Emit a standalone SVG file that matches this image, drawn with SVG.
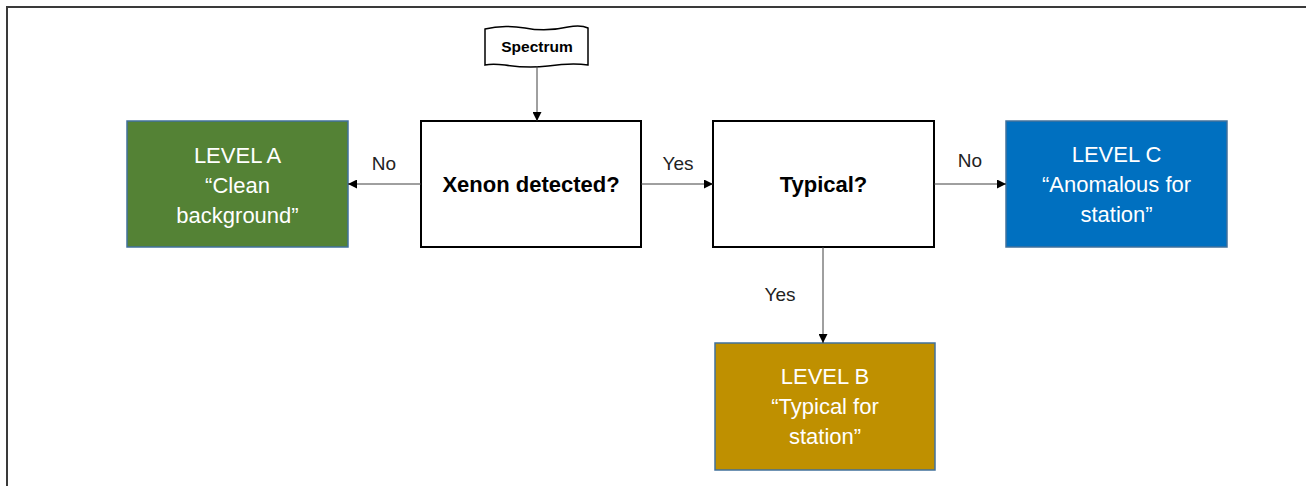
<svg xmlns="http://www.w3.org/2000/svg" width="1306" height="486" viewBox="0 0 1306 486">
<defs>
<marker id="ah" viewBox="0 0 10 10" refX="10" refY="5" markerWidth="9" markerHeight="9" markerUnits="userSpaceOnUse" orient="auto">
<path d="M0,0 L10,5 L0,10 Z" fill="#000"/>
</marker>
</defs>
<style>
.frame{fill:none;stroke:#3a3a3a;stroke-width:2}
.dec{fill:#fff;stroke:#000;stroke-width:2}
.lvl{stroke:#41719C;stroke-width:1.5}
.conn{fill:none;stroke:#404040;stroke-width:1;marker-end:url(#ah)}
.wt{font-family:"Liberation Sans",Arial,sans-serif;font-size:22px;fill:#fff;text-anchor:middle}
.bt{font-family:"Liberation Sans",Arial,sans-serif;font-size:22px;font-weight:bold;fill:#000;text-anchor:middle}
.lab{font-family:"Liberation Sans",Arial,sans-serif;font-size:19px;fill:#222;text-anchor:middle}
</style>
<rect width="1306" height="486" fill="#fff"/>
<path class="frame" d="M7,490 L7,7 L1310,7"/>
<g id="spectrum">
<path d="M485,29 C500,25 512,26 525,28 C540,31 555,30 568,27 C578,25 584,26 588,28 L588,65 C575,63 562,64 548,66 C532,68 518,67 505,65 C496,64 490,64 485,65 Z" fill="#fff" stroke="#000" stroke-width="1.5"/>
<text class="bt" x="537" y="52" style="font-size:15.5px">Spectrum</text>
</g>
<g id="levelA">
<rect class="lvl" x="127" y="121" width="221" height="126" fill="#548235"/>
<text class="wt" x="237.5" y="163">LEVEL A</text>
<text class="wt" x="237.5" y="193">“Clean</text>
<text class="wt" x="237.5" y="223">background”</text>
</g>
<g id="xenon">
<rect class="dec" x="421" y="121" width="220" height="126"/>
<text class="bt" x="531" y="192">Xenon detected?</text>
</g>
<g id="typical">
<rect class="dec" x="713" y="121" width="221" height="126"/>
<text class="bt" x="823.5" y="192">Typical?</text>
</g>
<g id="levelC">
<rect class="lvl" x="1006" y="121" width="221" height="126" fill="#0070C0"/>
<text class="wt" x="1116.5" y="162">LEVEL C</text>
<text class="wt" x="1116.5" y="192">“Anomalous for</text>
<text class="wt" x="1116.5" y="222">station”</text>
</g>
<g id="levelB">
<rect class="lvl" x="715" y="343" width="220" height="127" fill="#BF9000"/>
<text class="wt" x="825" y="384">LEVEL B</text>
<text class="wt" x="825" y="414">“Typical for</text>
<text class="wt" x="825" y="444">station”</text>
</g>
<g id="connectors">
<path class="conn" d="M537,66 L537,121"/>
<path class="conn" d="M421,184 L348,184"/>
<path class="conn" d="M641,184 L713,184"/>
<path class="conn" d="M934,184 L1006,184"/>
<path class="conn" d="M823,247 L823,343"/>
<text class="lab" x="384" y="170">No</text>
<text class="lab" x="678" y="170">Yes</text>
<text class="lab" x="970" y="167">No</text>
<text class="lab" x="780" y="301">Yes</text>
</g>
</svg>
